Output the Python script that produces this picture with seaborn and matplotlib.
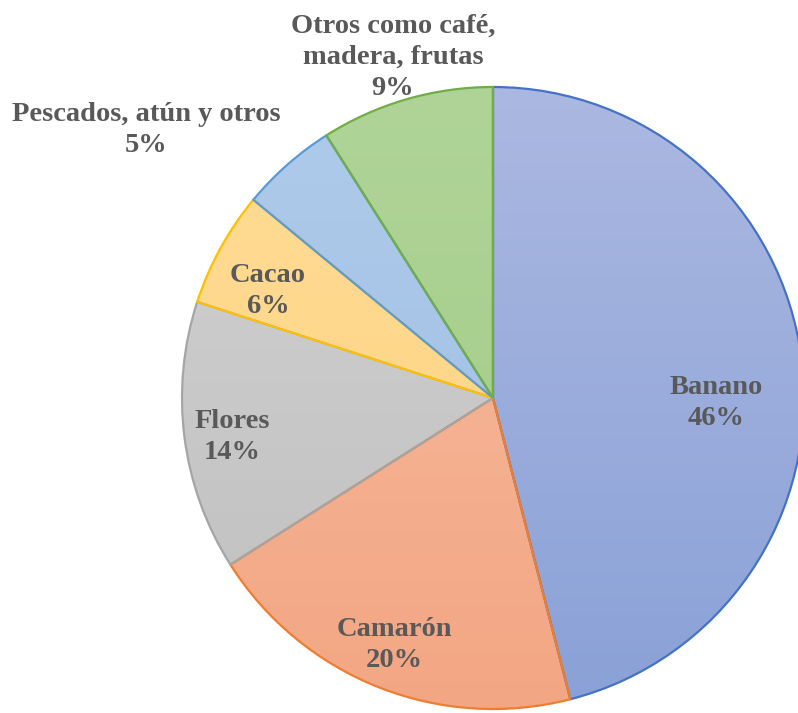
import numpy as np
import matplotlib
matplotlib.use("Agg")
import matplotlib.pyplot as plt
from matplotlib.colors import LinearSegmentedColormap
import seaborn as sns

# Export shares by product (%)
categories = ["Banano", "Camarón", "Flores", "Cacao",
              "Pescados, atún y otros", "Otros como café,\nmadera, frutas"]
shares = [46, 20, 14, 6, 5, 9]

# Fill gradient (top -> bottom) and outline colours per slice
fill_top = ["#abb8e1", "#f6bea3", "#d2d2d2", "#ffdc96", "#afcbea", "#b0d498"]
fill_bottom = ["#8aa1d7", "#f3a683", "#bfbfbf", "#fdd27e", "#9dbde4", "#a1cb85"]
edge_colors = ["#4472c4", "#ed7d31", "#a5a5a5", "#ffc000", "#5b9bd5", "#70ad47"]

# Label anchor positions in pixel space (x, y from top)
label_xy = [(716, 403), (394, 645), (232, 437), (268, 291), (146, 130), (393, 57)]

sns.set_theme(style="white")
plt.rcParams["font.family"] = ["Liberation Serif", "DejaVu Serif"]

W, H = 798, 713
fig = plt.figure(figsize=(W / 100, H / 100), dpi=100)
ax = fig.add_axes([0, 0, 1, 1])

cx, cy, r = 493, H - 398, 311
wedges, _ = ax.pie(shares, startangle=90, counterclock=False,
                   center=(cx, cy), radius=r, frame=True,
                   wedgeprops=dict(linewidth=1.6))

grad = np.linspace(0, 1, 256).reshape(-1, 1)
for w, top, bot, ec in zip(wedges, fill_top, fill_bottom, edge_colors):
    cmap = LinearSegmentedColormap.from_list("g", [top, bot])
    im = ax.imshow(grad, cmap=cmap, aspect="auto", origin="upper",
                   extent=(cx - r, cx + r, cy - r, cy + r), zorder=1,
                   interpolation="bilinear")
    im.set_clip_path(w)
    w.set_facecolor("none")
    w.set_edgecolor(ec)
    w.set_zorder(2)

for cat, s, (x, y) in zip(categories, shares, label_xy):
    ax.text(x, H - y, f"{cat}\n{s}%", ha="center", va="center",
            fontsize=20.5, fontweight="bold", color="#595959",
            linespacing=1.32, zorder=3)

ax.set_xlim(0, W)
ax.set_ylim(0, H)
ax.set_aspect("equal")
ax.axis("off")

fig.savefig("out.png", dpi=100)
